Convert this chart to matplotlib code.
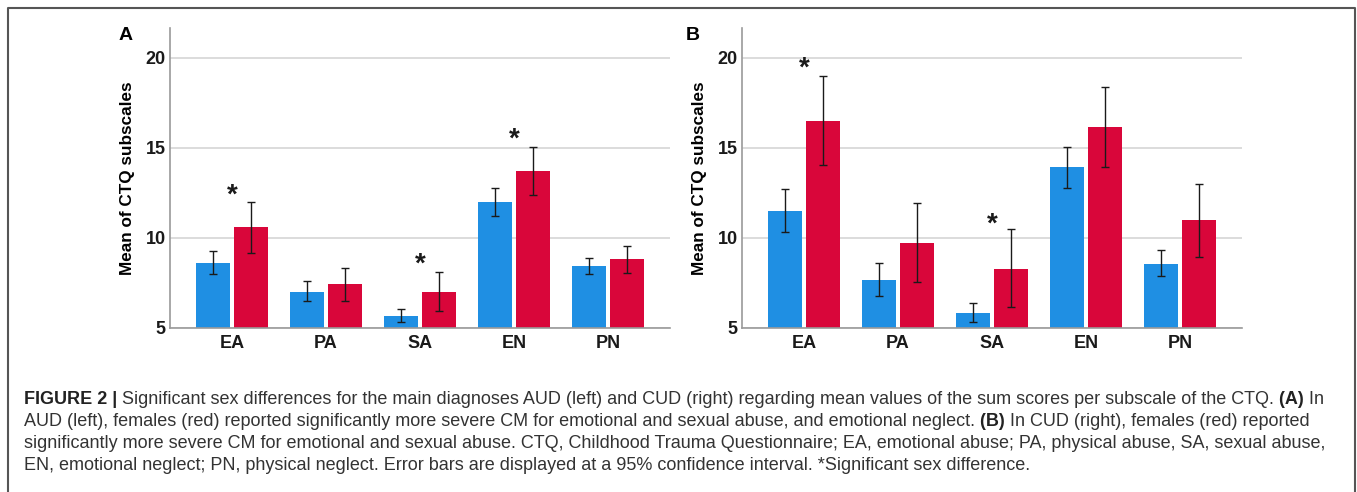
import numpy as np
import matplotlib
matplotlib.use("Agg")
import matplotlib.pyplot as plt
from matplotlib.lines import Line2D

plt.rcParams["font.family"] = ["Liberation Sans", "DejaVu Sans"]

# Data (means and 95% CI bounds)
categories = ["EA", "PA", "SA", "EN", "PN"]

aud_male = [8.59, 7.02, 5.68, 11.99, 8.42]
aud_male_lo = [7.98, 6.50, 5.35, 11.21, 7.98]
aud_male_hi = [9.27, 7.61, 6.07, 12.75, 8.90]
aud_female = [10.58, 7.42, 7.02, 13.69, 8.81]
aud_female_lo = [9.18, 6.50, 5.94, 12.38, 8.07]
aud_female_hi = [12.00, 8.33, 8.12, 15.04, 9.53]
aud_star_cats = ["EA", "SA", "EN"]
aud_star_y = [12.77, 8.95, 15.85]

cud_male = [11.50, 7.66, 5.85, 13.91, 8.57]
cud_male_lo = [10.34, 6.77, 5.31, 12.77, 7.87]
cud_male_hi = [12.69, 8.59, 6.40, 15.06, 9.34]
cud_female = [16.50, 9.73, 8.29, 16.13, 10.97]
cud_female_lo = [14.04, 7.53, 6.15, 13.95, 8.92]
cud_female_hi = [18.98, 11.93, 10.49, 18.37, 12.99]
cud_star_cats = ["EA", "SA"]
cud_star_y = [19.81, 11.17]

y_ticks = [5, 10, 15, 20]

BLUE = "#1f8fe3"
RED = "#d9063a"

W, H = 1357, 492
fig = plt.figure(figsize=(W / 100, H / 100), dpi=100)


def draw_panel(ax, male, male_lo, male_hi, female, female_lo, female_hi, star_cats, star_y):
    x = np.arange(len(categories))
    bw = 0.36
    off = 0.205
    ax.bar(x - off, male, width=bw, bottom=0, color=BLUE, zorder=2)
    ax.bar(x + off, female, width=bw, bottom=0, color=RED, zorder=2)
    m = np.array(male)
    f = np.array(female)
    ax.errorbar(x - off, m, yerr=[m - np.array(male_lo), np.array(male_hi) - m],
                fmt="none", ecolor="#1a1a1a", elinewidth=1, capsize=3.2, capthick=1, zorder=3)
    ax.errorbar(x + off, f, yerr=[f - np.array(female_lo), np.array(female_hi) - f],
                fmt="none", ecolor="#1a1a1a", elinewidth=1, capsize=3.2, capthick=1, zorder=3)
    for c, yv in zip(star_cats, star_y):
        ax.text(categories.index(c), yv - 0.8, "*", ha="center", va="baseline",
                fontsize=20, fontweight="bold", color="#1a1a1a", zorder=4)
    ax.set_xlim(-0.66, len(categories) - 1 + 0.66)
    ax.set_ylim(5, 21.65)
    ax.set_yticks(y_ticks)
    ax.set_xticks(x)
    ax.set_xticklabels(categories, fontsize=13, fontweight="bold")
    ax.set_yticklabels([str(t) for t in y_ticks], fontsize=13, fontweight="bold")
    ax.tick_params(axis="both", length=0, colors="#1a1a1a")
    ax.tick_params(axis="y", pad=3)
    ax.tick_params(axis="x", pad=5)
    ax.grid(axis="y", color="#d6d6d6", linewidth=1.2, zorder=0)
    ax.set_axisbelow(True)
    for s in ["top", "right"]:
        ax.spines[s].set_visible(False)
    ax.spines["left"].set_color("#9a9a9a")
    ax.spines["bottom"].set_color("#9a9a9a")
    ax.spines["left"].set_linewidth(1.2)
    ax.spines["bottom"].set_linewidth(1.2)
    ax.set_ylabel("Mean of CTQ subscales", fontsize=12.3, fontweight="bold", labelpad=8)


ax_a = fig.add_axes([170 / W, 164 / H, 500 / W, 300 / H])
ax_b = fig.add_axes([742 / W, 164 / H, 500 / W, 300 / H])
draw_panel(ax_a, aud_male, aud_male_lo, aud_male_hi, aud_female, aud_female_lo, aud_female_hi,
           aud_star_cats, aud_star_y)
draw_panel(ax_b, cud_male, cud_male_lo, cud_male_hi, cud_female, cud_female_lo, cud_female_hi,
           cud_star_cats, cud_star_y)

fig.text(126 / W, 1 - 36 / H, "A", fontsize=14, fontweight="bold", ha="center", va="center")
fig.text(693 / W, 1 - 36 / H, "B", fontsize=14, fontweight="bold", ha="center", va="center")

# frame around the figure
fig.add_artist(Line2D([8 / W, 8 / W, 1355 / W, 1355 / W], [0, 1 - 8 / H, 1 - 8 / H, 0],
                      transform=fig.transFigure, color="#555555", linewidth=1.5))

# caption with mixed bold / regular runs
caption = [
    [("FIGURE 2 |", "bold"),
     (" Significant sex differences for the main diagnoses AUD (left) and CUD (right) regarding "
      "mean values of the sum scores per subscale of the CTQ.", "normal"),
     (" (A)", "bold"), (" In", "normal")],
    [("AUD (left), females (red) reported significantly more severe CM for emotional and sexual "
      "abuse, and emotional neglect.", "normal"),
     (" (B)", "bold"), (" In CUD (right), females (red) reported", "normal")],
    [("significantly more severe CM for emotional and sexual abuse. CTQ, Childhood Trauma "
      "Questionnaire; EA, emotional abuse; PA, physical abuse, SA, sexual abuse,", "normal")],
    [("EN, emotional neglect; PN, physical neglect. Error bars are displayed at a 95% confidence "
      "interval. *Significant sex difference.", "normal")],
]
renderer = fig.canvas.get_renderer()
line_y = [399, 421, 443, 465]
for parts, yp in zip(caption, line_y):
    xp = 24 / W
    for txt, wt in parts:
        col = "#222222" if wt == "bold" else "#333333"
        t = fig.text(xp, 1 - yp / H, txt, fontsize=13, fontweight=wt, color=col,
                     ha="left", va="center")
        bb = t.get_window_extent(renderer)
        xp += bb.width / fig.bbox.width

fig.savefig("out.png", dpi=100)
